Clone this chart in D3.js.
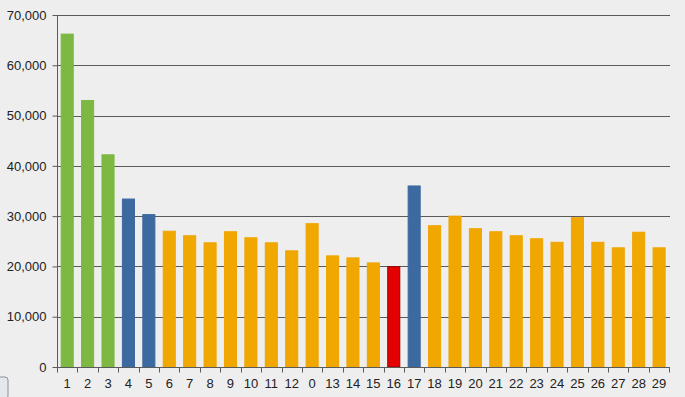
<!DOCTYPE html>
<html>
<head>
<meta charset="utf-8">
<script src="https://cdn.jsdelivr.net/npm/d3@7/dist/d3.min.js"></script>
<style>
  html, body { margin: 0; padding: 0; background: #eeeeee; }
  svg { display: block; }
  text { font-family: "Liberation Sans", Arial, sans-serif; fill: #222; }
</style>
</head>
<body>
<svg id="chart" width="685" height="397"></svg>
<script>
// category labels along the x axis
const categories = ['1', '2', '3', '4', '5', '6', '7', '8', '9', '10', '11', '12', '0', '13', '14', '15',
  '16', '17', '18', '19', '20', '21', '22', '23', '24', '25', '26', '27', '28', '29'];
const values = [66200, 53000, 42200, 33400, 30300, 27000, 26100, 24700, 26900, 25700, 24700, 23100, 28500, 22100, 21700, 20700,
  19950, 36000, 28100, 30000, 27500, 26900, 26100, 25500, 24800, 29700, 24800, 23700, 26800, 23700];
// colour group per bar
const groups = ['g', 'g', 'g', 'b', 'b', 'o', 'o', 'o', 'o', 'o', 'o', 'o', 'o', 'o', 'o', 'o',
  'r', 'b', 'o', 'o', 'o', 'o', 'o', 'o', 'o', 'o', 'o', 'o', 'o', 'o'];
const yTicks = [0, 10000, 20000, 30000, 40000, 50000, 60000, 70000];

const colors = {g: '#7cb842', b: '#3c69a0', o: '#f0a800', r: '#e40000'};
const strokes = {g: '#7cb842', b: '#3c69a0', o: '#eea500', r: '#9a0000'};

const margin = {top: 15, right: 15, bottom: 30, left: 57};
const width = 685, height = 397;
const svg = d3.select('#chart');

const x = d3.scaleBand()
  .domain(d3.range(categories.length))
  .range([margin.left, width - margin.right - 0.7])
  .paddingInner(0.36)
  .paddingOuter(0.18);

const y = d3.scaleLinear()
  .domain([0, 70000])
  .range([height - margin.bottom, margin.top]);

// grid lines
svg.append('g')
  .selectAll('line')
  .data(yTicks)
  .enter()
  .append('line')
  .attr('x1', margin.left)
  .attr('x2', width - margin.right)
  .attr('y1', (d) => Math.round(y(d)) + 0.5)
  .attr('y2', (d) => Math.round(y(d)) + 0.5)
  .attr('stroke', '#5a5a5a')
  .attr('stroke-width', 1);

// bars
svg.append('g')
  .selectAll('rect')
  .data(values)
  .enter()
  .append('rect')
  .attr('x', (d, i) => x(i) + 0.5)
  .attr('y', (d) => y(d))
  .attr('width', x.bandwidth() - 1)
  .attr('height', (d) => y(0) - y(d))
  .attr('fill', (d, i) => colors[groups[i]])
  .attr('stroke', (d, i) => strokes[groups[i]])
  .attr('stroke-width', 1);

// y axis
const yAxis = svg.append('g')
  .attr('transform', `translate(${margin.left + 0.5},0)`)
  .call(d3.axisLeft(y).tickValues(yTicks).tickFormat(d3.format(',')).tickSize(5).tickPadding(6));
yAxis.select('.domain').attr('stroke', '#5a5a5a').attr('d', `M-0,${y(70000)}V${y(0)}`);
yAxis.selectAll('.tick line').attr('stroke', '#5a5a5a');
yAxis.selectAll('.tick text')
  .style('font-family', '"Liberation Sans", Arial, sans-serif')
  .style('font-size', '13px')
  .attr('fill', '#222');

// x axis: ticks sit on the band edges
const xAxis = svg.append('g')
  .attr('transform', `translate(0,${Math.round(y(0)) + 0.5})`);
xAxis.append('line')
  .attr('x1', margin.left)
  .attr('x2', width - margin.right - 0.7)
  .attr('stroke', '#5a5a5a');
const edges = d3.range(categories.length + 1).map((i) => margin.left + i * (width - margin.right - 0.7 - margin.left) / categories.length);
xAxis.selectAll('line.tk')
  .data(edges)
  .enter()
  .append('line')
  .attr('class', 'tk')
  .attr('x1', (d) => Math.round(d) + 0.5)
  .attr('x2', (d) => Math.round(d) + 0.5)
  .attr('y1', 0)
  .attr('y2', 5)
  .attr('stroke', '#5a5a5a');
xAxis.selectAll('text')
  .data(categories)
  .enter()
  .append('text')
  .attr('x', (d, i) => x(i) + x.bandwidth() / 2)
  .attr('y', 20)
  .attr('text-anchor', 'middle')
  .style('font-size', '13px')
  .text((d) => d);

// little widget in the lower-left corner
svg.append('rect')
  .attr('x', -6)
  .attr('y', 377)
  .attr('width', 14)
  .attr('height', 22)
  .attr('rx', 3)
  .attr('fill', '#e4e8ec')
  .attr('stroke', '#8a9098');
</script>
</body>
</html>
